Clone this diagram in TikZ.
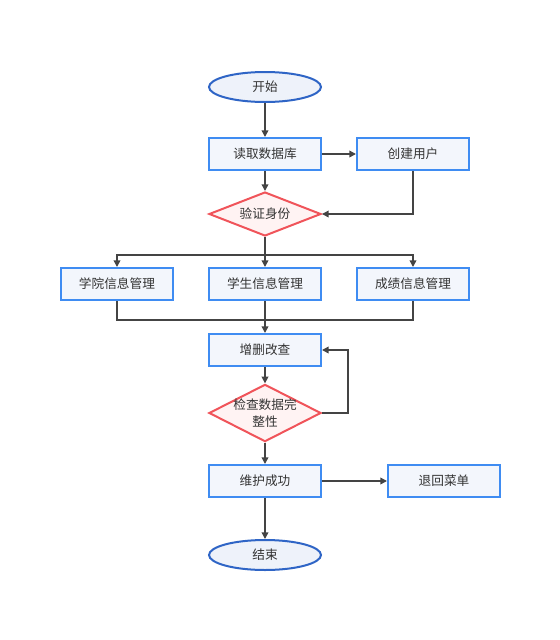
\documentclass[tikz,border=0pt]{standalone}
\usepackage{fontspec}
\setmainfont{Noto Sans CJK SC}
\usepackage{tikz}
\usetikzlibrary{arrows.meta,positioning,shapes.geometric}

\definecolor{boxline}{HTML}{3F8CF2}
\definecolor{boxfill}{HTML}{F3F6FC}
\definecolor{termline}{HTML}{2F65C6}
\definecolor{termfill}{HTML}{EEF2FA}
\definecolor{decline}{HTML}{F0545A}
\definecolor{decfill}{HTML}{FFF3F3}
\definecolor{arrowline}{HTML}{444444}
\definecolor{txt}{HTML}{333333}

\begin{document}
\begin{tikzpicture}[
    x=0.75pt, y=-0.75pt,
    >={Triangle[length=5pt,width=5pt]},
    every node/.style={font=\fontsize{9.5}{13}\selectfont, text=txt},
    procbox/.style={draw=boxline, fill=boxfill, line width=1.5pt,
      minimum width=84pt, minimum height=24pt, inner sep=0pt},
    termbox/.style={ellipse, draw=termline, fill=termfill, line width=1.5pt,
      minimum width=84pt, minimum height=22.5pt, inner sep=0pt},
    decbox/.style={diamond, draw=decline, fill=decfill, line width=1.5pt,
      minimum width=84pt, inner sep=-8pt, align=center},
    flow/.style={->, draw=arrowline, line width=1.1pt}
  ]
    \useasboundingbox (0,0) rectangle (560,640);

    % main column
    \node[termbox] (start) at (265,87) {开始};
    \node[procbox] (read) at (265,154) {读取数据库};
    \node[procbox] (user) at (413,154) {创建用户};
    \node[decbox, minimum height=33pt] (verify) at (265,214) {验证身份};

    \node[procbox] (college) at (117,284) {学院信息管理};
    \node[procbox] (student) at (265,284) {学生信息管理};
    \node[procbox] (grade) at (413,284) {成绩信息管理};

    \node[procbox] (crud) at (265,350) {增删改查};
    \node[decbox, minimum height=43pt] (check) at (265,413) {检查数据完\\整性};
    \node[procbox] (done) at (265,481) {维护成功};
    \node[procbox] (menu) at (444,481) {退回菜单};
    \node[termbox] (finish) at (265,555) {结束};

    \coordinate (fork) at (265,255);
    \coordinate (join) at (265,320);

    \draw[flow] (start) -- (read);
    \draw[flow] (read) -- (user);
    \draw[flow] (read) -- (verify);
    \draw[flow] (user.south) |- (verify.east);

    \draw[flow] (verify) -- (student);
    \draw[flow] (fork) -| (college.north);
    \draw[flow] (fork) -| (grade.north);

    \draw[arrowline, line width=1.1pt] (college.south) |- (join);
    \draw[arrowline, line width=1.1pt] (grade.south) |- (join);
    \draw[flow] (student) -- (crud);

    \draw[flow] (crud) -- (check);
    \draw[flow] (check.east) -- ++(26,0) |- (crud.east);
    \draw[flow] (check) -- (done);
    \draw[flow] (done) -- (menu);
    \draw[flow] (done) -- (finish);
\end{tikzpicture}
\end{document}
